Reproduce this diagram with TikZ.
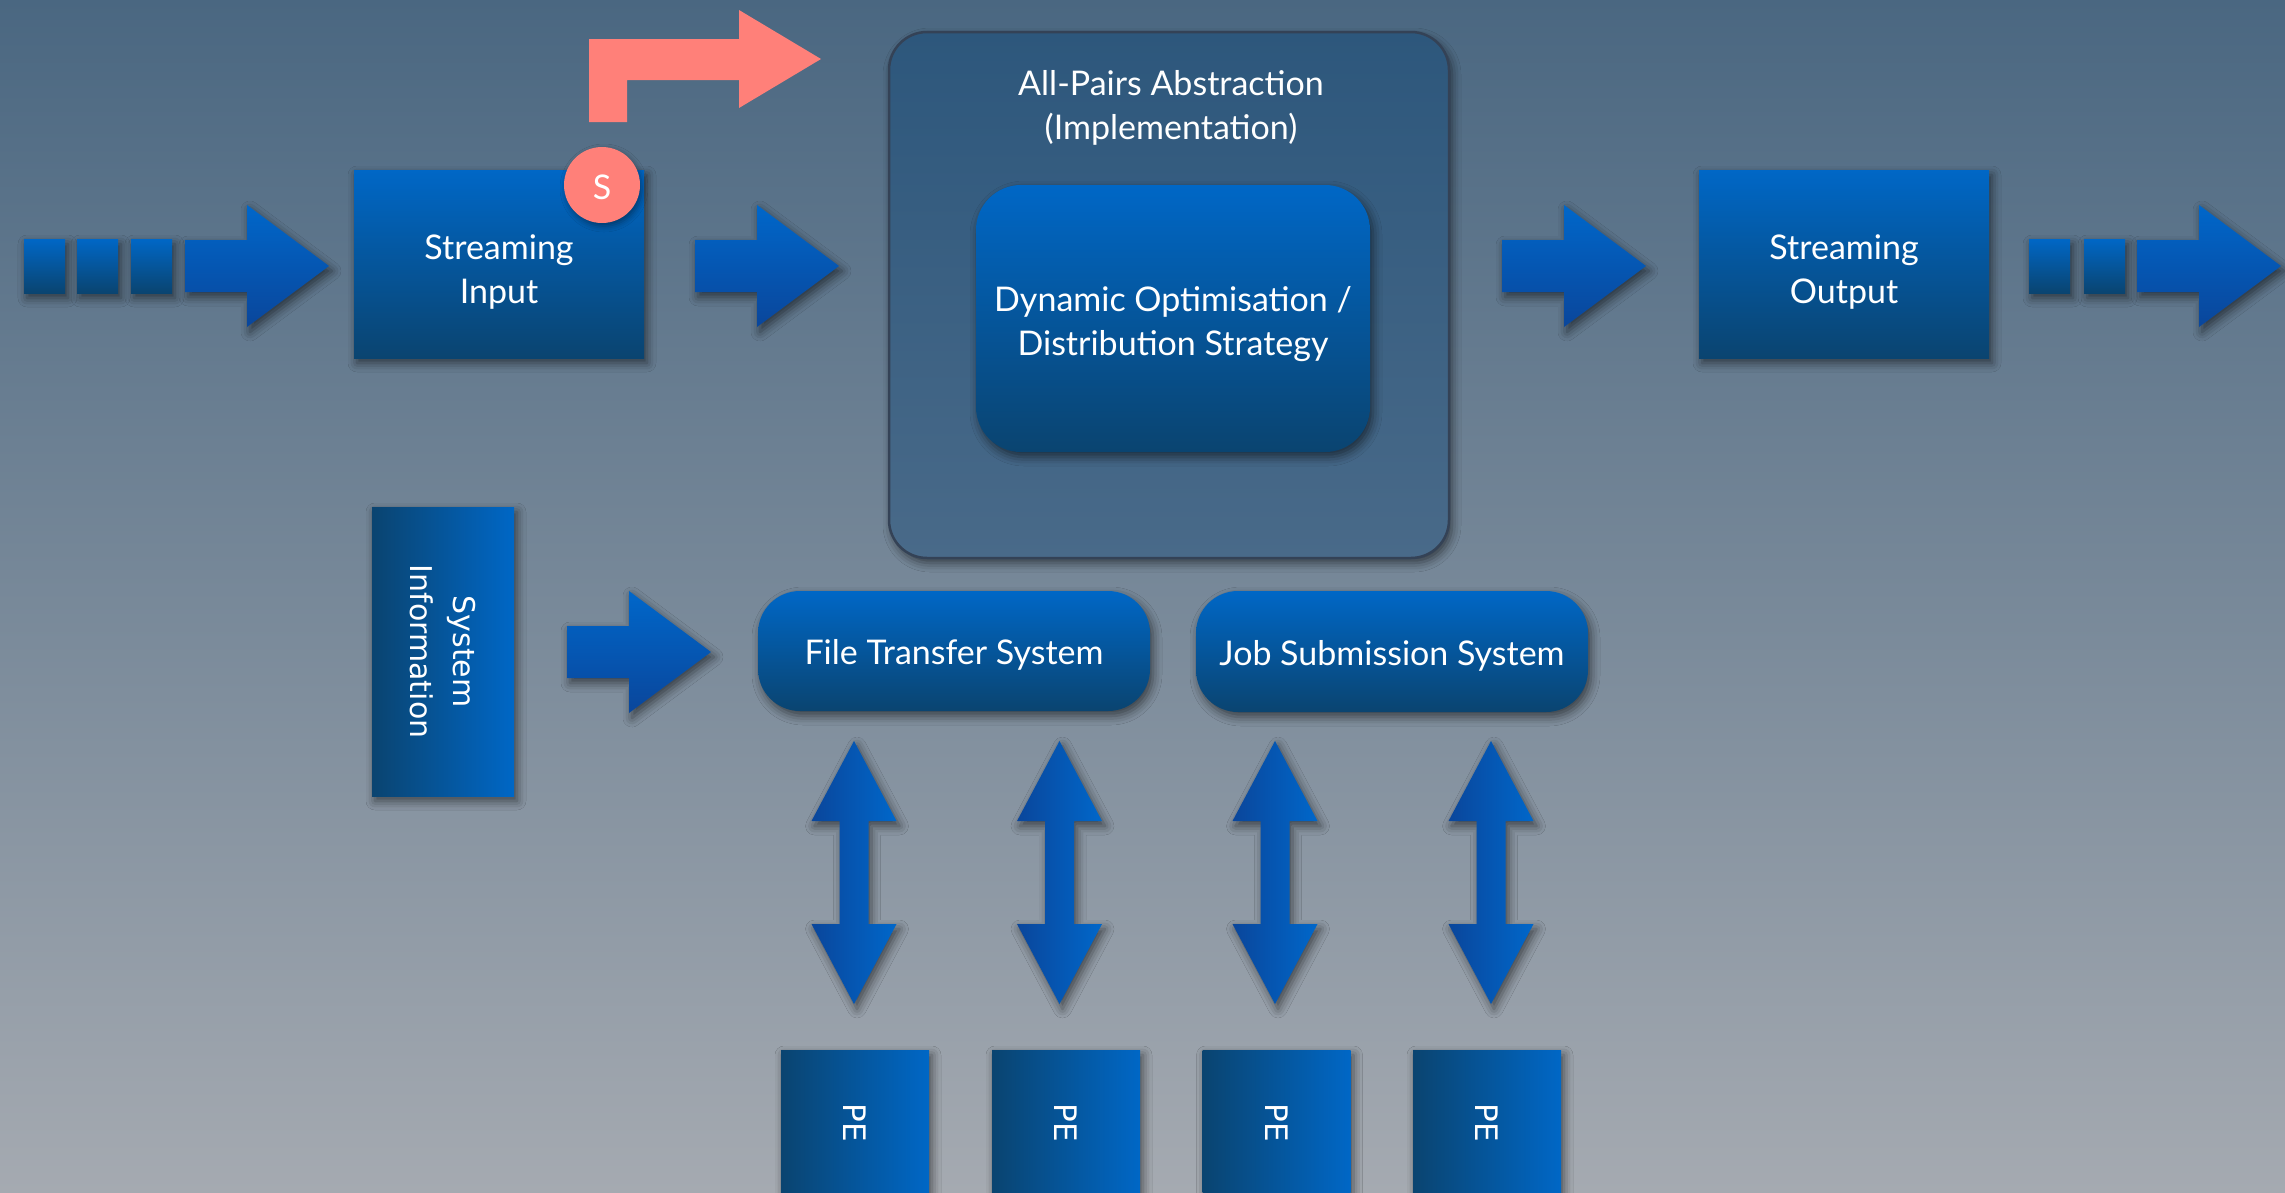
\documentclass[tikz,border=0pt]{standalone}
\usepackage{fontspec}
\setmainfont{Lato}
\newfontfamily\vsans{DejaVu Sans}
\usetikzlibrary{shadows.blur,calc}

\definecolor{bgtop}{RGB}{74,103,129}
\definecolor{bgbot}{RGB}{165,170,177}
\definecolor{boxhi}{RGB}{0,103,198}
\definecolor{boxlo}{RGB}{10,68,112}
\definecolor{arrhi}{RGB}{0,103,202}
\definecolor{arrlo}{RGB}{10,70,155}
\definecolor{salmon}{RGB}{255,128,121}
\definecolor{framehi}{RGB}{45,87,124}
\definecolor{framelo}{RGB}{73,106,137}
\definecolor{frameedge}{RGB}{52,66,86}

\newcommand\labelfont{\fontsize{34}{44}\selectfont}
\newcommand\sidefont{\vsans\fontsize{30}{43}\selectfont}

\tikzset{
  dropshadow/.style={blur shadow={shadow xshift=3pt, shadow yshift=-5pt,
      shadow blur radius=9pt, shadow opacity=55}},
  vgrad/.style={dropshadow, top color=boxhi, bottom color=boxlo},
  hgrad/.style={dropshadow, left color=boxlo, right color=boxhi},
  textbox/.style={vgrad, inner sep=0pt},
  lbl/.style={text=white, align=center, inner sep=0pt, font=\labelfont},
  square/.style={vgrad, inner sep=0pt, minimum width=41pt, minimum height=54pt},
  pebox/.style={hgrad, inner sep=0pt, minimum width=148pt, minimum height=146pt},
  sidetext/.style={text=white, align=center, inner sep=0pt, rotate=-90, font=\sidefont},
  % block arrow pointing right, origin at the middle of its tail
  barrow/.pic={
    \path[dropshadow, top color=arrhi, bottom color=arrlo]
      (0,-26) -- (62,-26) -- (62,-61) -- (144,0) -- (62,61) -- (62,26) -- (0,26) -- cycle;
  },
  % vertical double-headed block arrow, origin at its centre
  udarrow/.pic={
    \path[dropshadow, left color=arrlo, right color=arrhi]
      (0,-131.5) -- (42.5,-51.5) -- (14.5,-51.5) -- (14.5,51.5) -- (42.5,51.5)
      -- (0,131.5) -- (-42.5,51.5) -- (-14.5,51.5) -- (-14.5,-51.5) -- (-42.5,-51.5) -- cycle;
  }
}

\begin{document}
\begin{tikzpicture}[x=1pt,y=-1pt]
  % canvas and background
  \clip (0,0) rectangle (2285,1192);
  \shade[top color=bgtop, bottom color=bgbot] (0,0) rectangle (2285,1192);

  % streaming input with its queue
  \node[square] (q1) at (44.5,266) {};
  \node[square] (q2) at (97.5,266) {};
  \node[square] (q3) at (151.5,266) {};
  \pic at (185,266) {barrow};
  \node[textbox, minimum width=290pt, minimum height=188pt] (sin) at (499,264) {};
  \node[lbl] (sint) at ([yshift=-8pt]sin.center) {Streaming\\Input};
  \node[circle, fill=salmon, minimum size=76pt, inner sep=0pt, text=white,
        font=\labelfont, blur shadow={shadow xshift=2pt, shadow yshift=-3pt,
        shadow blur radius=6pt, shadow opacity=40}] (s) at (602,185) {};
  \node[lbl] (st) at ([yshift=-2pt]s.center) {S};
  \fill[salmon] (589,122) -- (589,39) -- (739,39) -- (739,10) -- (821,59)
    -- (739,108) -- (739,80) -- (627,80) -- (627,122) -- cycle;
  \pic at (695,266) {barrow};

  % abstraction frame
  \node[dropshadow, top color=framehi, bottom color=framelo, draw=frameedge,
        line width=2.5pt, rounded corners=38pt, minimum width=560pt,
        minimum height=526pt] (apa) at (1169,295) {};
  \node[lbl] (apat) at (1171,108) {All-Pairs Abstraction\\(Implementation)};
  \node[textbox, rounded corners=45pt, minimum width=394pt, minimum height=267pt]
    (dyn) at (1173,318.5) {};
  \node[lbl] (dynt) at ([yshift=-6pt]dyn.center)
    {Dynamic Optimisation /\\Distribution Strategy};

  % streaming output
  \pic at (1502,266) {barrow};
  \node[textbox, minimum width=290pt, minimum height=188pt] (sout) at (1844,264) {};
  \node[lbl] (soutt) at ([yshift=-8pt]sout.center) {Streaming\\Output};
  \node[square] (q4) at (2049.5,266) {};
  \node[square] (q5) at (2104.5,266) {};
  \pic at (2137,266) {barrow};

  % system information and middleware
  \node[hgrad, minimum width=142pt, minimum height=289pt] (sys) at (443,651.5) {};
  \node[sidetext] (syst) at (sys.center) {System\\Information};
  \pic at (567,652) {barrow};
  \node[textbox, rounded corners=42pt, minimum width=392pt, minimum height=120pt]
    (fts) at (954,651) {};
  \node[lbl] (ftst) at ([yshift=-4pt]fts.center) {File Transfer System};
  \node[textbox, rounded corners=42pt, minimum width=392pt, minimum height=121pt]
    (jss) at (1392,651.5) {};
  \node[lbl] (jsst) at ([yshift=-4pt]jss.center) {Job Submission System};

  % processing elements
  \foreach \i/\x in {1/854, 2/1059.5, 3/1275, 4/1491} {
    \pic at (\x,872.5) {udarrow};
  }
  \foreach \i/\x in {1/855, 2/1066, 3/1276.5, 4/1487} {
    \node[pebox] (pe\i) at (\x,1123) {};
    \node[sidetext, font=\vsans\fontsize{31}{36}\selectfont] (pet\i) at (pe\i.center) {PE};
  }
\end{tikzpicture}
\end{document}
